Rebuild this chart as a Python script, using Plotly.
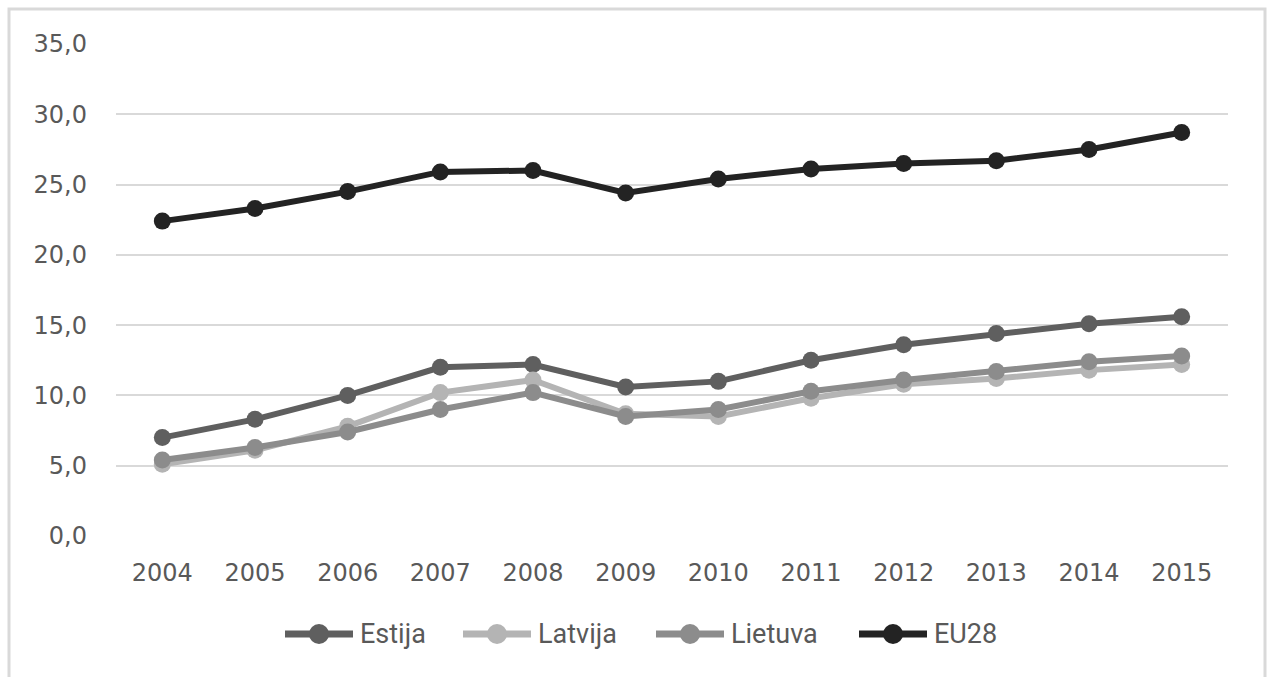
import plotly.graph_objects as go

years = ["2004", "2005", "2006", "2007", "2008", "2009", "2010", "2011", "2012", "2013", "2014", "2015"]
estija = [7.0, 8.3, 10.0, 12.0, 12.2, 10.6, 11.0, 12.5, 13.6, 14.4, 15.1, 15.6]
latvija = [5.1, 6.1, 7.8, 10.2, 11.1, 8.7, 8.5, 9.8, 10.8, 11.2, 11.8, 12.2]
lietuva = [5.4, 6.3, 7.4, 9.0, 10.2, 8.5, 9.0, 10.3, 11.1, 11.7, 12.4, 12.8]
eu28 = [22.4, 23.3, 24.5, 25.9, 26.0, 24.4, 25.4, 26.1, 26.5, 26.7, 27.5, 28.7]

names = ["Estija", "Latvija", "Lietuva", "EU28"]
values = [estija, latvija, lietuva, eu28]
colors = ["#5f5f5f", "#b4b4b4", "#8c8c8c", "#232323"]

# layout geometry (pixels)
W, H = 1273, 677
L, R, T, B = 116, 45, 44, 141
pw, ph = W - L - R, H - T - B


def px_x(x):
    return (x - L) / pw


def px_y(y):
    return (H - B - y) / ph


fig = go.Figure()
for name, vals, col in zip(names, values, colors):
    fig.add_trace(go.Scatter(
        x=years, y=vals, name=name, mode="lines+markers",
        line=dict(color=col, width=6),
        marker=dict(color=col, size=17),
        showlegend=False,
    ))

# custom legend (Excel-style long line symbols)
leg_starts = [282, 460, 653, 856]
leg_y = 634
sym_w = 74
shapes = [dict(
    type="rect", xref="paper", yref="paper",
    x0=px_x(9), x1=px_x(1265), y0=px_y(700), y1=px_y(9),
    line=dict(color="#d9d9d9", width=3), fillcolor="rgba(0,0,0,0)", layer="below",
)]
annotations = []
for name, col, xs in zip(names, colors, leg_starts):
    shapes.append(dict(
        type="line", xref="paper", yref="paper",
        x0=px_x(xs + 3), x1=px_x(xs + sym_w - 3), y0=px_y(leg_y), y1=px_y(leg_y),
        line=dict(color=col, width=7), layer="above",
    ))
    cx = xs + sym_w / 2
    shapes.append(dict(
        type="circle", xref="paper", yref="paper",
        xsizemode="pixel", ysizemode="pixel",
        xanchor=px_x(cx), yanchor=px_y(leg_y),
        x0=-10, x1=10, y0=-10, y1=10,
        line=dict(color=col, width=0), fillcolor=col, layer="above",
    ))
    annotations.append(dict(
        xref="paper", yref="paper", x=px_x(xs + sym_w + 2), y=px_y(leg_y),
        xanchor="left", yanchor="middle", showarrow=False, text=name,
        font=dict(family="Roboto, Noto Sans", size=27, color="#595959"),
    ))

fig.update_layout(
    width=W, height=H,
    margin=dict(l=L, r=R, t=T, b=B),
    paper_bgcolor="white", plot_bgcolor="white",
    separators=", ",
    font=dict(family="DejaVu Sans", color="#595959", size=24),
    xaxis=dict(
        type="category", range=[-0.5, 11.5], showgrid=False, zeroline=False,
        showline=False, ticks="", tickfont=dict(size=24, color="#595959"),
        ticklabelstandoff=20,
    ),
    yaxis=dict(
        range=[0, 35], dtick=5, tickformat=".1f", showgrid=True,
        gridcolor="#d9d9d9", gridwidth=2, zeroline=False, showline=False,
        ticks="", tickfont=dict(size=24, color="#595959"),
        ticklabelstandoff=28,
    ),
    showlegend=False,
    shapes=shapes,
    annotations=annotations,
)

fig.write_html("out.html")
